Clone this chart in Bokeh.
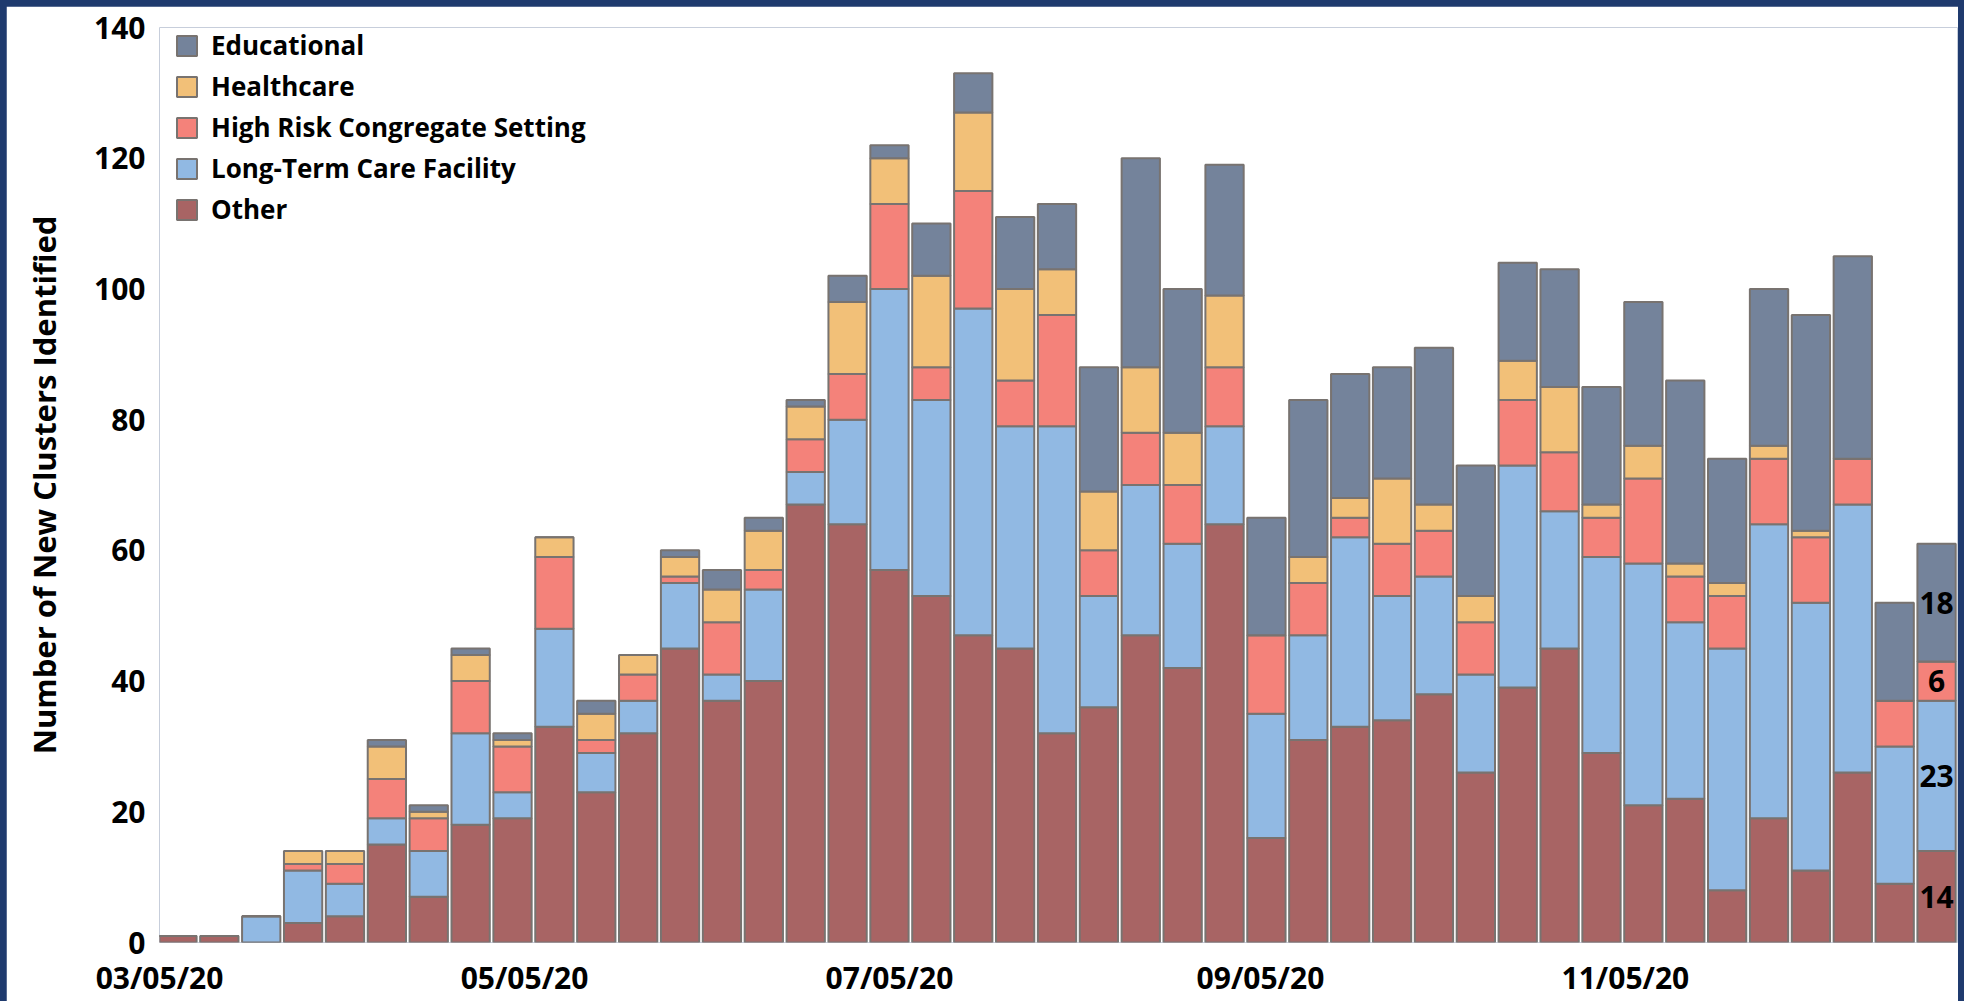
import datetime as dt
import pandas as pd
from bokeh.plotting import figure
from bokeh.models import (ColumnDataSource, FixedTicker, DatetimeTickFormatter,
                          Legend, LegendItem, Range1d)
from bokeh.layouts import column
from bokeh.embed import file_html
from bokeh.resources import INLINE
from bokeh.core.properties import value

# ---------------- data ----------------
weeks = pd.date_range("2020-03-08", periods=43, freq="7D")

other = [1, 1, 0, 3, 4, 15, 7, 18, 19, 33, 23, 32, 45, 37, 40, 67, 64, 57, 53, 47, 45, 32,
         36, 47, 42, 64, 16, 31, 33, 34, 38, 26, 39, 45, 29, 21, 22, 8, 19, 11, 26, 9, 14]
ltcf = [0, 0, 4, 8, 5, 4, 7, 14, 4, 15, 6, 5, 10, 4, 14, 5, 16, 43, 30, 50, 34, 47,
        17, 23, 19, 15, 19, 16, 29, 19, 18, 15, 34, 21, 30, 37, 27, 37, 45, 41, 41, 21, 23]
high_risk = [0, 0, 0, 1, 3, 6, 5, 8, 7, 11, 2, 4, 1, 8, 3, 5, 7, 13, 5, 18, 7, 17,
             7, 8, 9, 9, 12, 8, 3, 8, 7, 8, 10, 9, 6, 13, 7, 8, 10, 10, 7, 7, 6]
healthcare = [0, 0, 0, 2, 2, 5, 1, 4, 1, 3, 4, 3, 3, 5, 6, 5, 11, 7, 14, 12, 14, 7,
              9, 10, 8, 11, 0, 4, 3, 10, 4, 4, 6, 10, 2, 5, 2, 2, 2, 1, 0, 0, 0]
educational = [0, 0, 0, 0, 0, 1, 1, 1, 1, 0, 2, 0, 1, 3, 2, 1, 4, 2, 8, 6, 11, 10,
               19, 32, 22, 20, 18, 24, 19, 17, 24, 20, 15, 18, 18, 22, 28, 19, 24, 33, 31, 15, 18]

series_keys = ["other", "ltcf", "high_risk", "healthcare", "educational"]
series_names = ["Other", "Long-Term Care Facility", "High Risk Congregate Setting",
                "Healthcare", "Educational"]
series_colors = ["#a86464", "#91b9e3", "#f4827a", "#f2c078", "#74839b"]

y_ticks = [0, 20, 40, 60, 80, 100, 120, 140]
x_tick_dates = ["2020-03-05", "2020-05-05", "2020-07-05", "2020-09-05", "2020-11-05"]

NAVY = "#1f3a6e"
OUTLINE = "#787370"
FONT = "Open Sans"

source = ColumnDataSource(data=dict(
    week=weeks, other=other, ltcf=ltcf, high_risk=high_risk,
    healthcare=healthcare, educational=educational))

# ---------------- figure ----------------
FIG_W, FIG_H = 1952, 995
B_LEFT, B_RIGHT, B_TOP, B_BOTTOM = 153, 1, 21, 59

p = figure(width=FIG_W, height=FIG_H, x_axis_type="datetime",
           x_range=Range1d(dt.datetime(2020, 3, 5), dt.datetime(2020, 12, 30, 12)),
           y_range=Range1d(0, 140),
           output_backend="svg", toolbar_location=None,
           min_border_left=B_LEFT, min_border_right=B_RIGHT,
           min_border_top=B_TOP, min_border_bottom=B_BOTTOM,
           outline_line_color=None, background_fill_color="white", border_fill_color="white")

bar_width = 6.4 * 24 * 3600 * 1000
renderers = p.vbar_stack(series_keys, x="week", width=bar_width, source=source,
                         color=series_colors, line_color=OUTLINE, line_width=2)

# value labels on the latest week
last_vals = [other[-1], ltcf[-1], high_risk[-1], healthcare[-1], educational[-1]]
lx, ly, lt = [], [], []
base = 0
for v in last_vals:
    if v > 0:
        lx.append(weeks[-1])
        ly.append(base + v / 2)
        lt.append(str(v))
    base += v
p.text(x=lx, y=ly, text=lt, text_align="center", text_baseline="middle",
       text_font=value(FONT), text_font_size="30px", text_font_style="bold",
       text_color="black")

# axes
p.xgrid.visible = False
p.ygrid.visible = False
for ax in (p.xaxis[0], p.yaxis[0]):
    ax.axis_line_color = None
    ax.major_tick_line_color = None
    ax.minor_tick_line_color = None
    ax.major_tick_out = 0
    ax.major_label_text_font = FONT
    ax.major_label_text_font_size = "30px"
    ax.major_label_text_font_style = "bold"
    ax.major_label_text_color = "black"

p.yaxis.ticker = FixedTicker(ticks=y_ticks)
p.yaxis.major_label_standoff = 14
p.yaxis.axis_label = "Number of New Clusters Identified"
p.yaxis.axis_label_text_font = FONT
p.yaxis.axis_label_text_font_size = "31px"
p.yaxis.axis_label_text_font_style = "bold"
p.yaxis.axis_label_text_color = "black"
p.yaxis.axis_label_standoff = 26

x_ticks_ms = [pd.Timestamp(d).value // 10**6 for d in x_tick_dates]
p.xaxis.ticker = FixedTicker(ticks=x_ticks_ms)
fmt = "%m/%d/%y"
p.xaxis.formatter = DatetimeTickFormatter(days=fmt, months=fmt, years=fmt, hours=fmt,
                                          hourmin=fmt, minutes=fmt)
p.xaxis.major_label_standoff = 14

# legend (top to bottom: reverse of stacking order)
frame_h = FIG_H - B_TOP - B_BOTTOM
row_h, row_gap = 36, 5
leg_h = 5 * row_h + 4 * row_gap
leg_top_from_frame_top = 0
items = [LegendItem(label=series_names[i], renderers=[renderers[i]]) for i in (4, 3, 2, 1, 0)]
legend = Legend(items=items, location=(15, frame_h - leg_h - leg_top_from_frame_top),
                margin=0, padding=0,
                glyph_width=25, glyph_height=25, label_height=25, spacing=row_gap,
                label_standoff=12, label_text_font=FONT, label_text_font_size="26px",
                label_text_font_style="bold", label_text_color="black",
                border_line_color=None, background_fill_alpha=0)
p.add_layout(legend, "center")

layout = column(p, styles={"background-color": NAVY, "padding": "6px 6px 0px 6px"})

open("out.html", "w").write(file_html(layout, INLINE))
